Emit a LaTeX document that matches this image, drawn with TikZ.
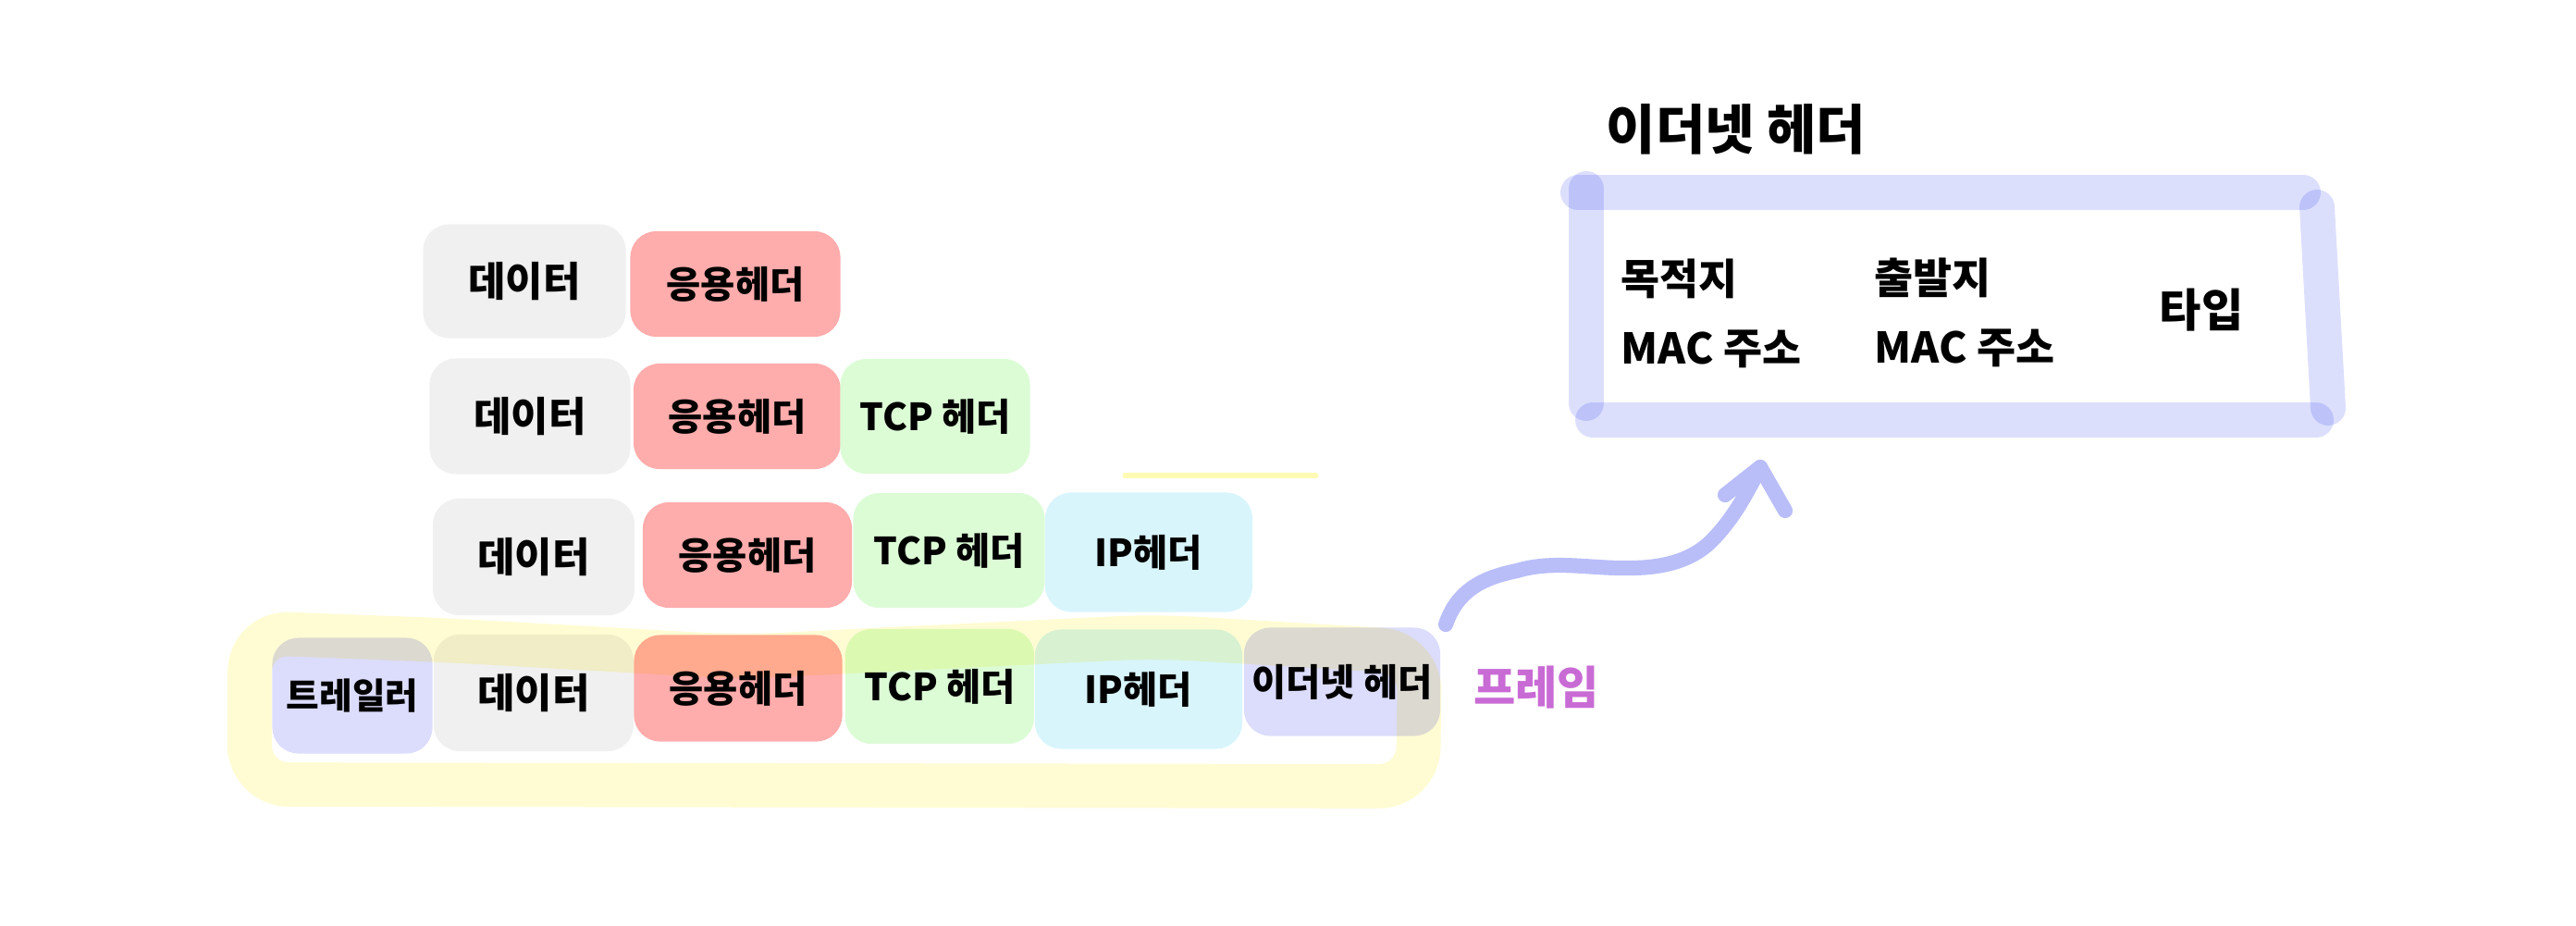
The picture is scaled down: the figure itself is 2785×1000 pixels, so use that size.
\documentclass[tikz,border=0pt]{standalone}
\usepackage{fontspec}
\setmainfont{Noto Sans CJK KR}
\usepackage{xcolor}
\usepackage{tikz}
\usetikzlibrary{calc,positioning}

\definecolor{segdata}{HTML}{F0F0F0}
\definecolor{segapp}{HTML}{FFACAC}
\definecolor{segtcp}{HTML}{DCFCD6}
\definecolor{segip}{HTML}{D8F5FC}
\definecolor{segeth}{HTML}{DCDCFC}
\definecolor{marker}{HTML}{FFFCD4}
\definecolor{markerline}{HTML}{FFFBB5}
\definecolor{panelpen}{HTML}{DCDFFC}
\definecolor{arrowpen}{HTML}{B9BEF9}
\definecolor{frametxt}{HTML}{C96BD5}

\tikzset{
  seg/.style={rounded corners=8pt, inner sep=0pt, font=\fontsize{11.5}{14}\selectfont\bfseries},
  wh/.style 2 args={minimum width=#1, minimum height=#2},
  databox/.style={seg, fill=segdata, font=\fontsize{12.5}{15}\selectfont\bfseries},
  appbox/.style={seg, fill=segapp},
  tcpbox/.style={seg, fill=segtcp},
  ipbox/.style={seg, fill=segip},
  ethbox/.style={seg, fill=segeth},
  panelline/.style={draw=panelpen, line width=10.8pt, line cap=round},
  fieldtxt/.style={align=left, anchor=west, inner sep=0pt,
    font=\fontsize{13}{21.5}\selectfont\bfseries},
}

\begin{document}
\begin{tikzpicture}[x=0.01cm, y=-0.01cm]

    \useasboundingbox (0,0) rectangle (2785,1000);

    % Row 1
    \node[databox, wh={2.19cm}{1.23cm}] (d1) at (567,304) {데이터};
    \node[appbox, wh={2.27cm}{1.14cm}] (a1) at (795,307) {응용헤더};

    % Row 2
    \node[databox, wh={2.17cm}{1.25cm}] (d2) at (573,450) {데이터};
    \node[appbox, wh={2.24cm}{1.14cm}] (a2) at (797,450) {응용헤더};
    \node[tcpbox, wh={2.05cm}{1.24cm}] (t2) at (1011,450) {TCP 헤더};

    % Row 3
    \node[databox, wh={2.18cm}{1.26cm}] (d3) at (577,602) {데이터};
    \node[appbox, wh={2.26cm}{1.14cm}] (a3) at (808,600) {응용헤더};
    \node[tcpbox, wh={2.07cm}{1.24cm}] (t3) at (1026,595) {TCP 헤더};
    \node[ipbox, wh={2.24cm}{1.29cm}] (i3) at (1242,597) {IP헤더};

    % Row 4 (frame)
    \node[ethbox, wh={1.73cm}{1.25cm}, font=\fontsize{11}{14}\selectfont\bfseries] (r4) at (381,752) {트레일러};
    \node[databox, wh={2.16cm}{1.26cm}] (d4) at (577,749) {데이터};
    \node[appbox, wh={2.25cm}{1.15cm}] (a4) at (798,744) {응용헤더};
    \node[tcpbox, wh={2.04cm}{1.24cm}] (t4) at (1016,742) {TCP 헤더};
    \node[ipbox, wh={2.24cm}{1.29cm}] (i4) at (1231,745) {IP헤더};
    \node[ethbox, wh={2.12cm}{1.17cm}] (e4) at (1451,737) {이더넷 헤더};

    % Highlighter
    \begin{scope}[blend mode=multiply]
        \draw[marker, line width=13.6pt, line cap=round, line join=round, rounded corners=12pt]
          (270,770) -- (270,684) -- (480,692) -- (800,710) -- (1000,700)
          -- (1250,688) -- (1535,705) -- (1533,850) -- (270,848) -- cycle;
        \draw[markerline, line width=1.5pt, line cap=round] (1216,514) -- (1423,514);

        % Ethernet header box
        \draw[panelline] (1706,208) -- (2490,208);
        \draw[panelline] (1715,204) -- (1715,436);
        \draw[panelline] (1722,454) -- (2504,454);
        \draw[panelline] (2505,224) -- (2517,441);
    \end{scope}

    \node[text=frametxt, font=\fontsize{14}{17}\selectfont\bfseries] (frm) at (1661,743) {프레임};

    % Arrow
    \coordinate (tail) at (1563,675);
    \coordinate (tip) at (1903,505);
    \draw[arrowpen, line width=4.6pt, line cap=round, line join=round]
      (tail) .. controls (1575,640) and (1600,625) .. (1640,617)
      .. controls (1680,605) and (1720,615) .. (1762,614)
      .. controls (1800,614) and (1830,605) .. (1850,585)
      .. controls (1875,560) and (1890,530) .. (tip);
    \draw[arrowpen, line width=4.6pt, line cap=round, line join=round]
      ($(tip)+(-38,30)$) -- (tip) -- ($(tip)+(27,47)$);

    \node[font=\fontsize{16.5}{20}\selectfont\bfseries] (title) at (1877,140) {이더넷 헤더};
    \node[fieldtxt] (dst) at (1752,339) {목적지\\MAC 주소};
    \node[fieldtxt] (src) at (2026,338) {출발지\\MAC 주소};
    \node[font=\fontsize{14}{17}\selectfont\bfseries] (typ) at (2380,335) {타입};

\end{tikzpicture}
\end{document}
